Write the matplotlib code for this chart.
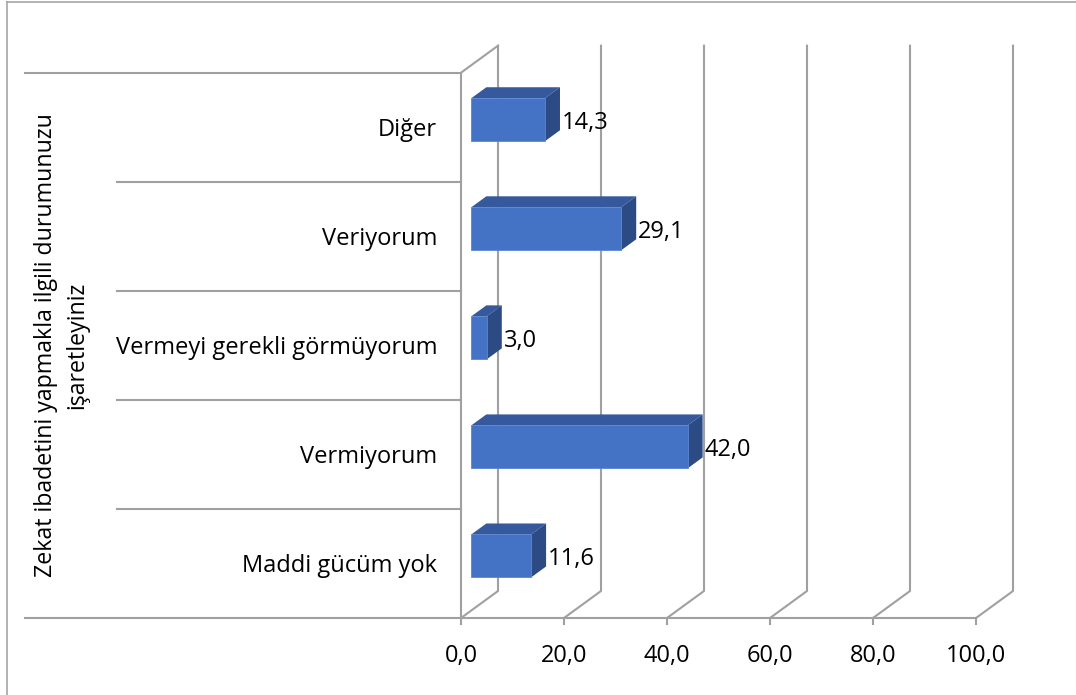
import matplotlib
matplotlib.use("Agg")
import matplotlib.pyplot as plt
from matplotlib.patches import Polygon
from matplotlib.lines import Line2D

# veriler (alttan üste)
kategoriler = ["Maddi gücüm yok", "Vermiyorum", "Vermeyi gerekli görmüyorum", "Veriyorum", "Diğer"]
degerler = [11.6, 42.0, 3.0, 29.1, 14.3]
x_ticks = [0, 20, 40, 60, 80, 100]
x_ticklabels = ["0,0", "20,0", "40,0", "60,0", "80,0", "100,0"]
eksen_basligi = "Zekat ibadetini yapmakla ilgili durumunuzu\nişaretleyiniz"

W, H = 1076, 695
fig = plt.figure(figsize=(W / 100, H / 100), dpi=100)
plt.rcParams['font.family'] = ['Open Sans', 'DejaVu Sans']
fs = 17

# eksen konumu (piksel)
x0_px, x100_px = 461, 976
yb_px, yt_px = 618, 72.7
ax = fig.add_axes([x0_px / W, (H - yb_px) / H, (x100_px - x0_px) / W, (yb_px - yt_px) / H])
ax.set_xlim(0, 100)
ax.set_ylim(0, 5)
ax.axis('off')

sx = (x100_px - x0_px) / 100.0   # px / birim
sy = (yb_px - yt_px) / 5.0       # px / kategori
DX = 37 / sx                     # derinlik kayması
DY = 27 / sy

def px2x(p):
    return (p - x0_px) / sx

grid_c = '#A0A0A0'
lw = 1.5

# sol duvar ve taban çizgileri
ax.plot([0, 0, DX], [0, 5, 5 + DY], color=grid_c, lw=lw, clip_on=False, zorder=1)
ax.plot([px2x(25), 100], [0, 0], color=grid_c, lw=lw, clip_on=False, zorder=1)
ax.plot([px2x(25), 0], [5, 5], color=grid_c, lw=lw, clip_on=False, zorder=1)
for k in range(1, 5):
    ax.plot([px2x(117), 0], [k, k], color=grid_c, lw=lw, clip_on=False, zorder=1)

# ızgara çizgileri (arka duvar + taban köşegenleri)
for v, lab in zip(x_ticks, x_ticklabels):
    ax.plot([v, v + DX, v + DX], [0, DY, 5 + DY], color=grid_c, lw=lw, clip_on=False, zorder=1)
    ax.plot([v, v], [0, -6 / sy], color=grid_c, lw=lw, clip_on=False, zorder=1)
    ax.text(v, -38 / sy, lab, ha='center', va='center', fontsize=fs, color='black')

# 3B çubuklar
f0, f1 = 0.28, 0.685
bh = 43 / sy
c_front, c_top, c_side = '#4472C4', '#35599C', '#2C4B85'
for i, (kat, v) in enumerate(zip(kategoriler, degerler)):
    yc = i + 0.5
    xa, ya = f0 * DX, yc - bh / 2 + f0 * DY
    xb, yb_ = f1 * DX, yc - bh / 2 + f1 * DY
    front = [(xa, ya), (xa + v, ya), (xa + v, ya + bh), (xa, ya + bh)]
    top = [(xa, ya + bh), (xa + v, ya + bh), (xb + v, yb_ + bh), (xb, yb_ + bh)]
    side = [(xa + v, ya), (xb + v, yb_), (xb + v, yb_ + bh), (xa + v, ya + bh)]
    ax.add_patch(Polygon(top, closed=True, facecolor=c_top, edgecolor='none', zorder=3, clip_on=False))
    ax.add_patch(Polygon(side, closed=True, facecolor=c_side, edgecolor='none', zorder=3, clip_on=False))
    ax.add_patch(Polygon(front, closed=True, facecolor=c_front, edgecolor='#5B86D0', lw=0.6, zorder=4, clip_on=False))
    ax.text(xb + v + 2 / sx, ya + bh / 2 - 3 / sy, f"{v:.1f}".replace('.', ','),
            ha='left', va='center', fontsize=fs, color='black', zorder=5)
    ax.text(px2x(437), yc - 3 / sy, kat, ha='right', va='center', fontsize=fs, color='black')

# eksen başlığı
ax.text(px2x(61.5), 2.5, eksen_basligi, rotation=90, ha='center', va='center',
        multialignment='center', fontsize=16.7, linespacing=1.4, color='black')

# grafik çerçevesi
fig.add_artist(Line2D([6.7 / W, 6.7 / W], [0, 1 - 1.7 / H], transform=fig.transFigure, color='#A6A6A6', lw=1.2))
fig.add_artist(Line2D([6.7 / W, 1], [1 - 1.7 / H, 1 - 1.7 / H], transform=fig.transFigure, color='#A6A6A6', lw=1.2))

fig.savefig("out.png", dpi=100, facecolor='white')
